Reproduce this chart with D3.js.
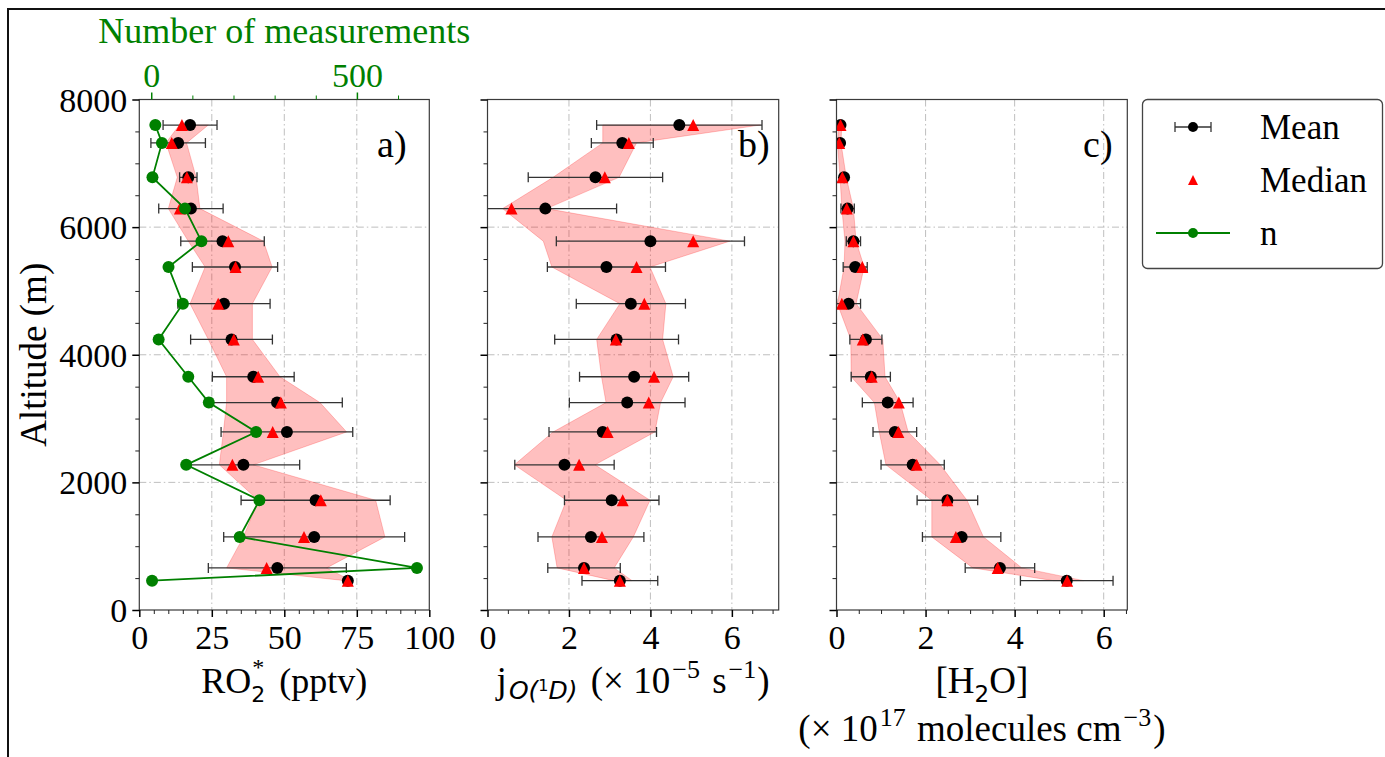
<!DOCTYPE html>
<html>
<head>
<meta charset="utf-8">
<script src="https://cdn.jsdelivr.net/npm/d3@7"></script>
<style>
  body { margin: 0; background: #fff; }
  svg { display: block; }
  text { font-family: "Liberation Serif", "Times New Roman", serif; }
</style>
</head>
<body>
<svg id="chart" width="1385" height="757"></svg>
<script>
// Vertical profiles: mean altitude of each bin (m)
const altitude = [7600, 7320, 6780, 6290, 5780, 5375, 4800, 4240, 3655, 3250, 2790, 2275, 1720, 1145, 660, 460];

// RO2* (pptv)
const ro2Mean   = [17.5, 13.4, 16.9, 17.8, 28.7, 33.0, 29.2, 31.8, 39.3, 47.5, 50.9, 35.9, 60.8, 60.3, 47.6, 71.9];
const ro2Median = [14.7, 11.2, 16.4, 14.0, 30.7, 33.2, 27.2, 32.6, 41.0, 48.8, 46.0, 32.1, 62.6, 56.8, 43.9, 71.9];
const ro2Sd     = [9.3, 9.4, 3.0, 11.1, 14.4, 14.7, 15.9, 14.1, 14.1, 22.5, 22.7, 19.4, 25.7, 31.2, 23.8, 0];
const ro2Q1     = [13.8, 9.2, 13.1, 10.0, 16.9, 22.7, 17.5, 23.8, 30.1, 30.1, 29.0, 27.6, 41.0, 35.9, 30.1, 71.0];
const ro2Q3     = [23.8, 16.3, 19.6, 20.9, 42.8, 45.8, 39.0, 39.0, 48.5, 62.3, 71.5, 39.3, 81.5, 84.7, 64.6, 73.0];

// Number of RO2* measurements per altitude bin
const nMeasurements = [10, 26, 3, 82, 122, 42, 77, 18, 90, 140, 255, 85, 263, 215, 646, 2];

// j(O1D) (x 1e-5 s-1)
const jMean   = [4.71, 3.31, 2.65, 1.42, 4.00, 2.92, 3.52, 3.17, 3.60, 3.43, 2.83, 1.89, 3.05, 2.54, 2.37, 3.25];
const jMedian = [5.05, 3.47, 2.88, 0.59, 5.05, 3.66, 3.85, 3.15, 4.09, 3.96, 2.95, 2.25, 3.32, 2.81, 2.37, 3.25];
const jSd     = [2.03, 0.76, 1.65, 1.75, 2.31, 1.45, 1.34, 1.52, 1.34, 1.42, 1.32, 1.22, 1.16, 1.30, 0.89, 0.93];
const jQ1     = [2.83, 2.83, 1.61, 0.37, 1.37, 1.58, 3.25, 2.68, 2.80, 2.91, 1.61, 0.66, 1.94, 1.58, 1.71, 3.10];
const jQ3     = [6.70, 3.66, 3.23, 1.45, 5.95, 3.99, 4.38, 4.30, 4.56, 4.25, 4.11, 2.64, 3.99, 3.58, 3.11, 3.55];

// [H2O] (x 1e17 molecules cm-3)
const h2oMean   = [0.09, 0.08, 0.17, 0.25, 0.38, 0.42, 0.27, 0.66, 0.77, 1.15, 1.31, 1.71, 2.49, 2.81, 3.67, 5.17];
const h2oMedian = [0.09, 0.06, 0.13, 0.23, 0.38, 0.58, 0.12, 0.59, 0.79, 1.40, 1.39, 1.80, 2.49, 2.68, 3.62, 5.18];
const h2oSd     = [0.04, 0.04, 0.05, 0.15, 0.16, 0.27, 0.27, 0.36, 0.44, 0.57, 0.49, 0.71, 0.68, 0.88, 0.78, 1.04];
const h2oQ1     = [0.05, 0.02, 0.08, 0.12, 0.19, 0.17, 0.02, 0.32, 0.33, 0.85, 0.96, 1.11, 2.14, 2.14, 3.06, 4.87];
const h2oQ3     = [0.12, 0.10, 0.22, 0.38, 0.44, 0.62, 0.44, 1.04, 1.09, 1.43, 1.61, 2.33, 2.93, 3.30, 4.16, 5.55];

// Tick values
const altTicks = [0, 2000, 4000, 6000, 8000];
const ro2Ticks = [0, 25, 50, 75, 100];
const jTicks   = [0, 2, 4, 6];
const h2oTicks = [0, 2, 4, 6];
const nTicks   = [0, 500];
const nMinorTicks = [100, 200, 300, 400, 600];

const svg = d3.select('#chart');
svg.append('rect').attr('width', 1385).attr('height', 757).attr('fill', '#fff');

// figure frame (top and left edges)
svg.append('line').attr('x1', 7).attr('x2', 1385).attr('y1', 9).attr('y2', 9)
  .attr('stroke', '#111').attr('stroke-width', 2);
svg.append('line').attr('x1', 8).attr('x2', 8).attr('y1', 8).attr('y2', 757)
  .attr('stroke', '#111').attr('stroke-width', 2);

const plotTop = 99.5, plotBottom = 610;
const y = d3.scaleLinear().domain([0, 8000]).range([plotBottom, plotTop]);
const altMinor = d3.range(0, 8001, 500);

const TICK_FONT = 34;
const RED = '#ff0000';
const GREEN = '#008000';
const GRID = '#b8b8b8';

const panels = [
  { id: 'a', left: 139.3, right: 429.3, domain: [0, 100], ticks: ro2Ticks, minorStep: 5,
    mean: ro2Mean, median: ro2Median, sd: ro2Sd, q1: ro2Q1, q3: ro2Q3, tag: 'a)', tagFrac: 0.82, yLabels: true },
  { id: 'b', left: 487.5, right: 778.7, domain: [0, 7.15], ticks: jTicks, minorStep: 0.5,
    mean: jMean, median: jMedian, sd: jSd, q1: jQ1, q3: jQ3, tag: 'b)', tagFrac: 0.86, yLabels: false },
  { id: 'c', left: 836.5, right: 1127.3, domain: [0, 6.53], ticks: h2oTicks, minorStep: 0.5,
    mean: h2oMean, median: h2oMedian, sd: h2oSd, q1: h2oQ1, q3: h2oQ3, tag: 'c)', tagFrac: 0.848, yLabels: false }
];

function triangle(cx, cy, h) {
  return `M${cx},${cy - h}L${cx + h},${cy + h}L${cx - h},${cy + h}Z`;
}

function styleAxis(g, labelColor) {
  g.select('.domain').remove();
  g.selectAll('text').attr('font-size', TICK_FONT).attr('fill', labelColor || '#000')
    .attr('font-family', '"Liberation Serif", serif');
}

panels.forEach(p => {
  const x = d3.scaleLinear().domain(p.domain).range([p.left, p.right]);
  p.x = x;
  const g = svg.append('g');
  const clipId = 'clip-' + p.id;
  svg.append('clipPath').attr('id', clipId).append('rect')
    .attr('x', p.left).attr('y', plotTop).attr('width', p.right - p.left).attr('height', plotBottom - plotTop);

  // grid
  const grid = g.append('g').attr('stroke', GRID).attr('stroke-width', 0.9)
    .attr('stroke-dasharray', '7,3,1.5,3');
  p.ticks.filter(t => t > p.domain[0] && t < p.domain[1]).forEach(t => {
    grid.append('line').attr('x1', x(t)).attr('x2', x(t)).attr('y1', plotTop).attr('y2', plotBottom);
  });
  altTicks.filter(t => t > 0 && t < 8000).forEach(t => {
    grid.append('line').attr('x1', p.left).attr('x2', p.right).attr('y1', y(t)).attr('y2', y(t));
  });

  const data = altitude.map((a, i) => ({ alt: a, mean: p.mean[i], median: p.median[i], sd: p.sd[i], q1: p.q1[i], q3: p.q3[i] }));
  const body = g.append('g').attr('clip-path', `url(#${clipId})`);

  // interquartile band
  const band = d3.area().y(d => y(d.alt)).x0(d => x(d.q1)).x1(d => x(d.q3));
  body.append('path').datum(data).attr('d', band)
    .attr('fill', RED).attr('fill-opacity', 0.25)
    .attr('stroke', RED).attr('stroke-opacity', 0.22).attr('stroke-width', 1);

  // error bars (mean +/- sd)
  const eb = body.append('g').attr('stroke', '#333').attr('stroke-width', 1.3);
  data.forEach(d => {
    const x0 = x(d.mean - d.sd), x1 = x(d.mean + d.sd), yy = y(d.alt);
    eb.append('line').attr('x1', x0).attr('x2', x1).attr('y1', yy).attr('y2', yy);
    eb.append('line').attr('x1', x0).attr('x2', x0).attr('y1', yy - 5).attr('y2', yy + 5);
    eb.append('line').attr('x1', x1).attr('x2', x1).attr('y1', yy - 5).attr('y2', yy + 5);
  });

  // means and medians
  body.append('g').selectAll('circle').data(data).join('circle')
    .attr('cx', d => x(d.mean)).attr('cy', d => y(d.alt)).attr('r', 6).attr('fill', '#000');
  body.append('g').selectAll('path').data(data).join('path')
    .attr('d', d => triangle(x(d.median), y(d.alt), 6)).attr('fill', RED);

  // spines
  g.append('rect').attr('x', p.left).attr('y', plotTop)
    .attr('width', p.right - p.left).attr('height', plotBottom - plotTop)
    .attr('fill', 'none').attr('stroke', '#3a3a3a').attr('stroke-width', 1.2);

  // x axis: minor then major
  const minorX = d3.range(p.domain[0], p.domain[1] + 1e-9, p.minorStep).filter(v => !p.ticks.some(t => Math.abs(t - v) < 1e-9));
  const gxm = g.append('g').attr('transform', `translate(0,${plotBottom})`)
    .call(d3.axisBottom(x).tickValues(minorX).tickSize(4).tickFormat(''));
  styleAxis(gxm);
  gxm.selectAll('line').attr('stroke', '#222').attr('stroke-width', 1);
  const gx = g.append('g').attr('transform', `translate(0,${plotBottom})`)
    .call(d3.axisBottom(x).tickValues(p.ticks).tickSize(7).tickPadding(5).tickFormat(d3.format('d')));
  styleAxis(gx);
  gx.selectAll('line').attr('stroke', '#000').attr('stroke-width', 1.5);
  gx.selectAll('text').attr('dy', '0.78em');

  // y axis
  const gym = g.append('g').attr('transform', `translate(${p.left},0)`)
    .call(d3.axisLeft(y).tickValues(altMinor.filter(v => v % 2000 !== 0)).tickSize(4).tickFormat(''));
  styleAxis(gym);
  gym.selectAll('line').attr('stroke', '#222').attr('stroke-width', 1);
  const gy = g.append('g').attr('transform', `translate(${p.left},0)`)
    .call(d3.axisLeft(y).tickValues(altTicks).tickSize(7).tickPadding(5)
      .tickFormat(p.yLabels ? d3.format('d') : ''));
  styleAxis(gy);
  gy.selectAll('line').attr('stroke', '#000').attr('stroke-width', 1.5);
  gy.selectAll('text').attr('dy', '0.34em');

  // panel tag
  g.append('text').attr('x', p.left + p.tagFrac * (p.right - p.left)).attr('y', 157)
    .attr('font-size', 38).text(p.tag);
});

// Number of measurements on the twin top axis of panel a
const pa = panels[0];
const xN = d3.scaleLinear().domain([-29, 676]).range([pa.left, pa.right]);
const nData = altitude.map((a, i) => ({ alt: a, n: nMeasurements[i] }));
const nLayer = svg.append('g').attr('clip-path', 'url(#clip-a)');
nLayer.append('path').datum(nData)
  .attr('d', d3.line().x(d => xN(d.n)).y(d => y(d.alt)))
  .attr('fill', 'none').attr('stroke', GREEN).attr('stroke-width', 1.8);
nLayer.selectAll('circle').data(nData).join('circle')
  .attr('cx', d => xN(d.n)).attr('cy', d => y(d.alt)).attr('r', 6).attr('fill', GREEN);

const gtm = svg.append('g').attr('transform', `translate(0,${plotTop})`)
  .call(d3.axisTop(xN).tickValues(nMinorTicks).tickSize(4).tickFormat(''));
styleAxis(gtm);
gtm.selectAll('line').attr('stroke', GREEN).attr('stroke-width', 1);
const gt = svg.append('g').attr('transform', `translate(0,${plotTop})`)
  .call(d3.axisTop(xN).tickValues(nTicks).tickSize(7).tickPadding(6).tickFormat(d3.format('d')));
styleAxis(gt, GREEN);
gt.selectAll('line').attr('stroke', GREEN).attr('stroke-width', 1.5);

svg.append('text').attr('x', (pa.left + pa.right) / 2).attr('y', 43)
  .attr('text-anchor', 'middle').attr('font-size', 36).attr('fill', GREEN)
  .text('Number of measurements');

// y label
svg.append('text').attr('transform', `translate(46,${(plotTop + plotBottom) / 2}) rotate(-90)`)
  .attr('text-anchor', 'middle').attr('font-size', 37).text('Altitude (m)');

// x labels
const SANS = '"DejaVu Sans", sans-serif';
{
  const t = svg.append('text').attr('x', (pa.left + pa.right) / 2).attr('y', 693)
    .attr('text-anchor', 'middle').attr('font-size', 36);
  t.append('tspan').text('RO');
  t.append('tspan').attr('font-family', SANS).attr('font-size', 22).attr('dy', 9).text('2');
  t.append('tspan').attr('font-size', 24).attr('dx', -13).attr('dy', -27).text('*');
  t.append('tspan').attr('dy', 18).attr('dx', 6).text(' (pptv)');
}
{
  const pb = panels[1];
  const t = svg.append('text').attr('x', (pb.left + pb.right) / 2).attr('y', 693)
    .attr('text-anchor', 'middle').attr('font-size', 37);
  t.append('tspan').text('j');
  t.append('tspan').attr('font-family', SANS).attr('font-style', 'italic').attr('font-size', 25).attr('dx', 2).attr('dy', 6).text('O(');
  t.append('tspan').attr('font-family', SANS).attr('font-size', 16).attr('dy', -8).text('1');
  t.append('tspan').attr('font-family', SANS).attr('font-style', 'italic').attr('font-size', 25).attr('dy', 8).text('D)');
  t.append('tspan').attr('dy', -6).attr('dx', 4).text(' (\u00d7 10');
  t.append('tspan').attr('font-size', 26).attr('dx', 2).attr('dy', -15).text('\u22125');
  t.append('tspan').attr('dy', 15).attr('dx', 3).text(' s');
  t.append('tspan').attr('font-size', 26).attr('dx', 2).attr('dy', -15).text('\u22121');
  t.append('tspan').attr('dy', 15).attr('dx', 1).text(')');
}
{
  const pc = panels[2];
  const cx = (pc.left + pc.right) / 2;
  const t1 = svg.append('text').attr('x', cx).attr('y', 693).attr('text-anchor', 'middle').attr('font-size', 37);
  t1.append('tspan').text('[H');
  t1.append('tspan').attr('font-family', SANS).attr('font-size', 23).attr('dy', 9).text('2');
  t1.append('tspan').attr('dy', -9).text('O]');
  const t2 = svg.append('text').attr('x', cx).attr('y', 741).attr('text-anchor', 'middle').attr('font-size', 37);
  t2.append('tspan').text('(\u00d7 10');
  t2.append('tspan').attr('font-size', 26).attr('dx', 2).attr('dy', -15).text('17');
  t2.append('tspan').attr('dy', 15).attr('dx', 2).text(' molecules cm');
  t2.append('tspan').attr('font-size', 26).attr('dx', 2).attr('dy', -15).text('\u22123');
  t2.append('tspan').attr('dy', 15).attr('dx', 2).text(')');
}

// legend
const lg = svg.append('g');
lg.append('rect').attr('x', 1142.5).attr('y', 99.5).attr('width', 240).attr('height', 169)
  .attr('rx', 5).attr('fill', '#fff').attr('stroke', '#444').attr('stroke-width', 1.3);
const legendItems = [
  { label: 'Mean', y: 127 },
  { label: 'Median', y: 180 },
  { label: 'n', y: 233 }
];
const mx = 1193;
// Mean entry
lg.append('line').attr('x1', 1175).attr('x2', 1211).attr('y1', legendItems[0].y).attr('y2', legendItems[0].y)
  .attr('stroke', '#333').attr('stroke-width', 1.3);
[1175, 1211].forEach(cx => lg.append('line').attr('x1', cx).attr('x2', cx)
  .attr('y1', legendItems[0].y - 5).attr('y2', legendItems[0].y + 5).attr('stroke', '#333').attr('stroke-width', 1.3));
lg.append('circle').attr('cx', mx).attr('cy', legendItems[0].y).attr('r', 5).attr('fill', '#000');
// Median entry
lg.append('path').attr('d', triangle(mx, legendItems[1].y, 5)).attr('fill', RED);
// n entry
lg.append('line').attr('x1', 1156).attr('x2', 1230).attr('y1', legendItems[2].y).attr('y2', legendItems[2].y)
  .attr('stroke', GREEN).attr('stroke-width', 1.8);
lg.append('circle').attr('cx', mx).attr('cy', legendItems[2].y).attr('r', 5).attr('fill', GREEN);
legendItems.forEach(it => {
  lg.append('text').attr('x', 1260).attr('y', it.y + 12).attr('font-size', 35).text(it.label);
});
</script>
</body>
</html>
